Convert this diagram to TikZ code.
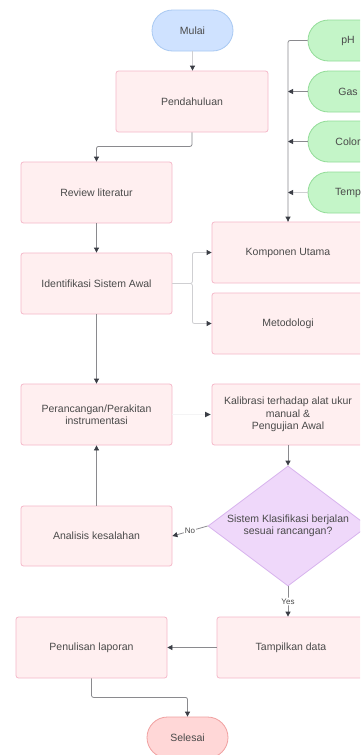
\documentclass[tikz,border=0pt]{standalone}
\usepackage{fontspec}
\setmainfont{Liberation Sans}
\usetikzlibrary{shapes.geometric,arrows.meta}
\definecolor{txt}{HTML}{4A4A4A}
\definecolor{pinkfill}{HTML}{FFEFF0}
\definecolor{pinkline}{HTML}{F5B8C9}
\definecolor{bluefill}{HTML}{CFE2FF}
\definecolor{blueline}{HTML}{A9C9F2}
\definecolor{greenfill}{HTML}{C4F5C8}
\definecolor{greenline}{HTML}{92DC98}
\definecolor{purplefill}{HTML}{EFD8FA}
\definecolor{purpleline}{HTML}{D8B4EE}
\definecolor{redfill}{HTML}{FFD7D7}
\definecolor{redline}{HTML}{F0A0A0}
\definecolor{linec}{HTML}{8A8A8E}
\definecolor{lightline}{HTML}{CFCFD2}
\definecolor{faintline}{HTML}{F4F4F5}
\definecolor{tipc}{HTML}{3A3D45}
\tikzset{
  base/.style={font=\fontsize{10.5}{12.5}\selectfont, text=txt, align=center, inner sep=0pt, line width=0.8pt},
  procbox/.style={base, draw=pinkline, fill=pinkfill, rounded corners=2.5pt, minimum height=61pt},
  startpill/.style={base, draw=blueline, fill=bluefill, rounded corners=20.5pt, minimum width=81pt, minimum height=41pt},
  endpill/.style={base, draw=redline, fill=redfill, rounded corners=20.5pt, minimum width=81pt, minimum height=41pt},
  inpill/.style={base, draw=greenline, fill=greenfill, rounded corners=20.5pt, minimum width=80pt, minimum height=41pt},
  decision/.style={base, diamond, draw=purpleline, fill=purplefill, minimum width=160pt, minimum height=120pt},
  conn/.style={draw=linec, line width=0.8pt, rounded corners=2pt, -{Triangle[length=5pt,width=5pt,color=tipc,fill=tipc]}},
  lconn/.style={conn, draw=lightline},
  plain/.style={draw=linec, line width=0.8pt, rounded corners=2pt},
  fplain/.style={draw=faintline, line width=0.8pt},
  tiponly/.style={fill=tipc, draw=none},
  lbl/.style={font=\fontsize{8}{9}\selectfont, text=txt, fill=white, inner sep=1pt}
}
\begin{document}
\begin{tikzpicture}[x=1pt,y=-1pt]
\useasboundingbox (0,0) rectangle (360,755);
\clip (0,0) rectangle (360,755);
\fill[white] (0,0) rectangle (360,755);

% nodes
\node[startpill] (mulai) at (192.5,30.5) {Mulai};
\node[procbox, minimum width=152pt] (pend) at (192,101.5) {Pendahuluan};
\node[procbox, minimum width=151pt] (review) at (96.5,192.5) {Review literatur};
\node[procbox, minimum width=151pt] (ident) at (96.5,283.5) {Identifikasi Sistem Awal};
\node[procbox, minimum width=152pt] (komp) at (288,252.5) {Komponen Utama};
\node[procbox, minimum width=152pt] (metod) at (288,323.5) {Metodologi};
\node[inpill] (ph) at (348,40.5) {pH};
\node[inpill] (gas) at (348,91.5) {Gas};
\node[inpill] (color) at (348,141.5) {Color};
\node[inpill] (temp) at (348,192.5) {Temp};
\node[procbox, minimum width=151pt] (peran) at (96.5,414.5) {Perancangan/Perakitan\\instrumentasi};
\node[procbox, minimum width=152pt] (kalib) at (288,414.5) {Kalibrasi terhadap alat ukur\\manual \&\\Pengujian Awal};
\node[decision] (dia) at (288,526) {};
\node[base] (diatext) at (dia.center) {Sistem Klasifikasi berjalan\\sesuai rancangan?};
\node[procbox, minimum width=151pt, minimum height=60pt] (anal) at (96.5,536) {Analisis kesalahan};
\node[procbox, minimum width=148pt] (tamp) at (291,647.5) {Tampilkan data};
\node[procbox, minimum width=151pt] (penul) at (91.5,647.5) {Penulisan laporan};
\node[endpill] (selesai) at (187.5,737.5) {Selesai};

% connectors
\draw[lconn] (mulai.south) -- (pend.north -| mulai.south);
\draw[conn] (pend.south) -- ++(0,14) -| (review.north);
\draw[conn] (review.south) -- (ident.north);
\draw[lconn] (ident.east) -- ++(20,0) |- (komp.west);
\draw[lconn] (ident.east) -- ++(20,0) |- (metod.west);
\coordinate (bus) at (288,40.5);
\draw[plain] (ph.west) -- (bus) -- (bus |- komp.north);
\draw[conn] (bus |- komp.north) ++(0,-1) -- (bus |- komp.north);
\draw[conn] (gas.west) -- (gas.west -| bus);
\draw[conn] (color.west) -- (color.west -| bus);
\draw[lconn] (temp.west) -- (temp.west -| bus);
\draw[conn] (ident.south) -- (peran.north);
\draw[fplain] (peran.east) -- (kalib.west);
\fill[tiponly] ([xshift=-1pt]kalib.west) -- ++(-5.5,-2.8) -- ++(0,5.6) -- cycle;
\draw[conn] (kalib.south) -- (dia.north);
\draw[conn] (dia.west) -- node[lbl, pos=0.5] (nolbl) {No} (anal.east);
\draw[conn] (anal.north) -- (peran.south);
\draw[conn] (dia.south) -- node[lbl, pos=0.5] (yeslbl) {Yes} (dia.south |- tamp.north);
\draw[conn] (tamp.west) -- (penul.east);
\draw[conn] (penul.south) -- ++(0,19) -| (selesai.north);
\end{tikzpicture}
\end{document}
